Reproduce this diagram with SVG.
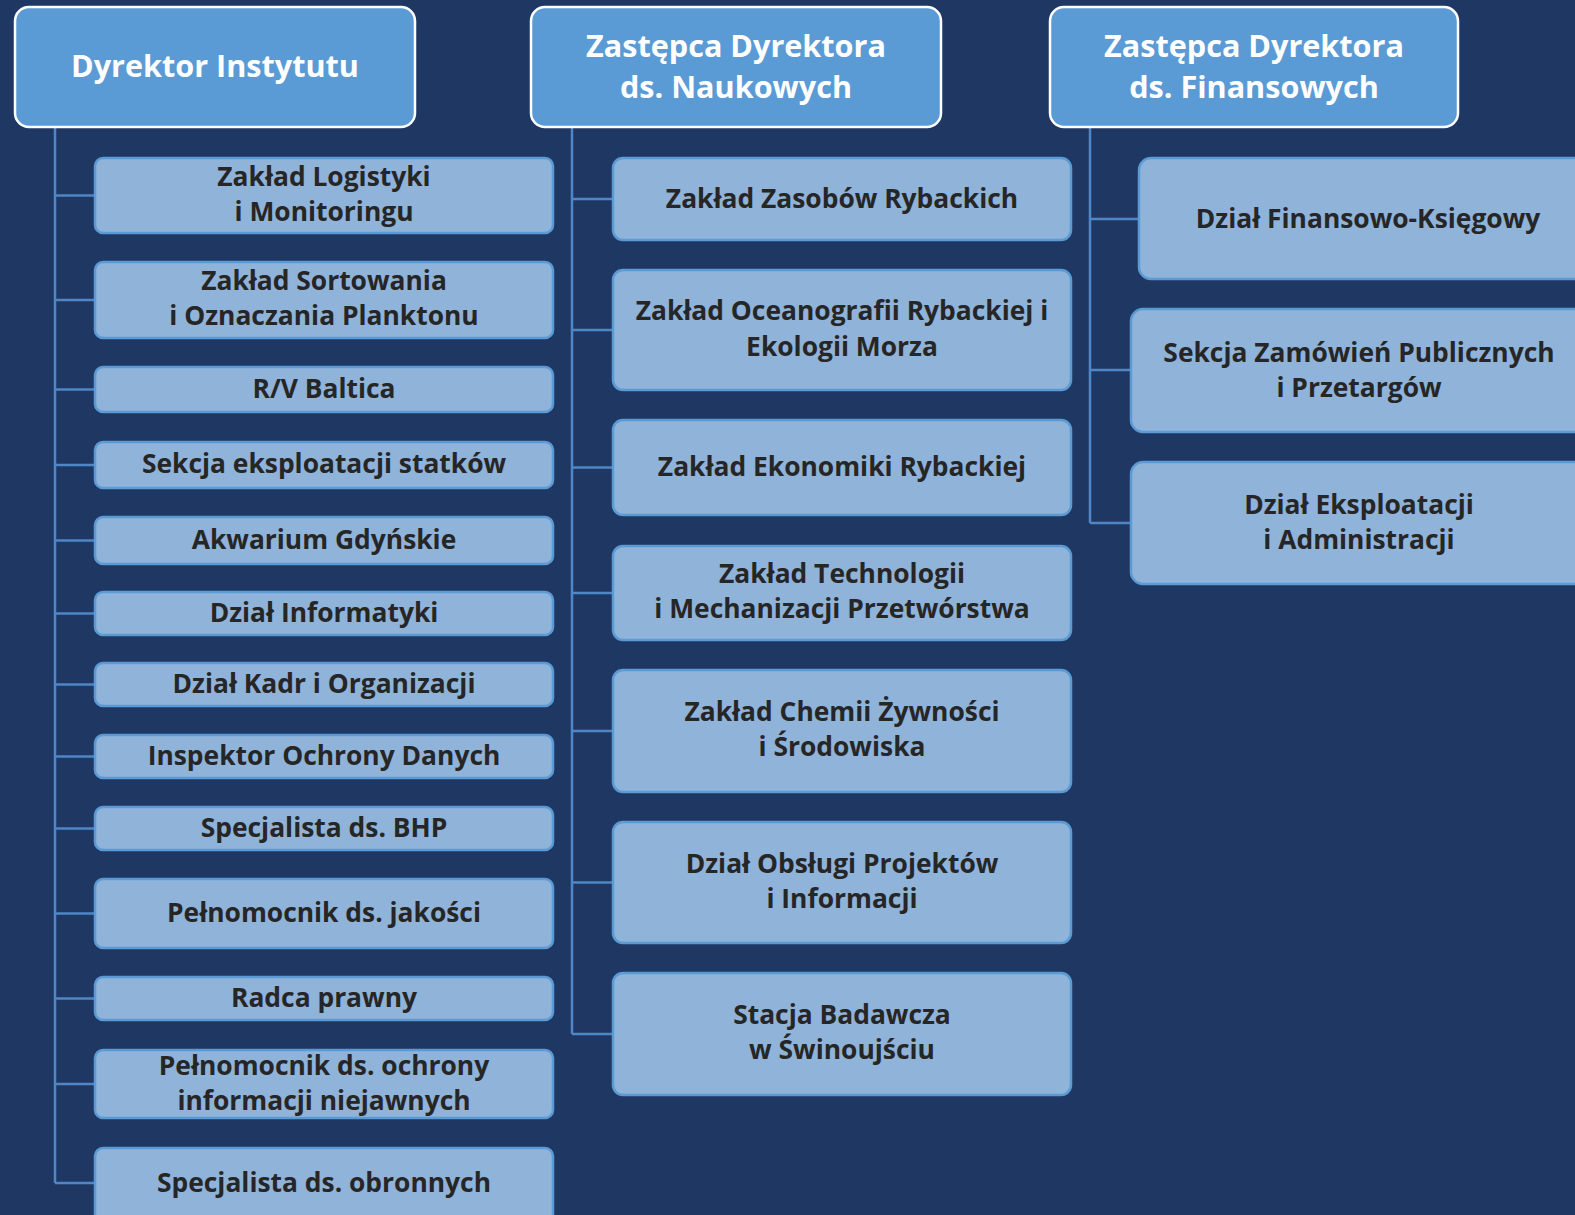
<svg xmlns="http://www.w3.org/2000/svg" width="1575" height="1215" viewBox="0 0 1575 1215">
<style>
.bg{fill:#1f3763}
.hd rect{fill:#5b9bd5;stroke:#ffffff;stroke-width:2.5}
.hd text{fill:#ffffff;font-family:"Open Sans","Noto Sans",sans-serif;font-weight:700;font-size:30.6px;text-anchor:middle}
.nd rect{fill:#8fb3d9;stroke:#5b9bd5;stroke-width:2.5}
.nd text{fill:#262626;font-family:"Open Sans","Noto Sans",sans-serif;font-weight:700;font-size:26.4px;text-anchor:middle}
.cn{stroke:#4f86c6;stroke-width:2.5;fill:none}
</style>
<rect class="bg" x="0" y="0" width="1575" height="1215"/>
<g id="connectors" class="cn">
<path d="M55 128V1183M55 195.5H95M55 300H95M55 389.5H95M55 465H95M55 540.5H95M55 613.5H95M55 684.5H95M55 756.5H95M55 828.5H95M55 913.5H95M55 998.5H95M55 1084H95M55 1183H95"/>
<path d="M572 128V1034M572 199H613M572 330H613M572 467.5H613M572 593H613M572 731H613M572 882.5H613M572 1034H613"/>
<path d="M1090 128V523M1090 219H1139M1090 370H1131M1090 523H1131"/>
</g>
<g id="h1" class="hd"><rect x="15" y="7" width="400" height="120" rx="14"/><text x="215" y="77">Dyrektor Instytutu</text></g>
<g id="h2" class="hd"><rect x="531" y="7" width="410" height="120" rx="14"/><text x="736" y="57">Zastępca Dyrektora</text><text x="736" y="98">ds. Naukowych</text></g>
<g id="h3" class="hd"><rect x="1050" y="7" width="408" height="120" rx="14"/><text x="1254" y="57">Zastępca Dyrektora</text><text x="1254" y="98">ds. Finansowych</text></g>

<g id="l1" class="nd"><rect x="95" y="158" width="458" height="75" rx="8"/><text x="324" y="186">Zakład Logistyki</text><text x="324" y="221">i Monitoringu</text></g>
<g id="l2" class="nd"><rect x="95" y="262" width="458" height="76" rx="8"/><text x="324" y="290">Zakład Sortowania</text><text x="324" y="325">i Oznaczania Planktonu</text></g>
<g id="l3" class="nd"><rect x="95" y="367" width="458" height="45" rx="8"/><text x="324" y="398">R/V Baltica</text></g>
<g id="l4" class="nd"><rect x="95" y="442" width="458" height="46" rx="8"/><text x="324" y="473">Sekcja eksploatacji statków</text></g>
<g id="l5" class="nd"><rect x="95" y="517" width="458" height="47" rx="8"/><text x="324" y="549">Akwarium Gdyńskie</text></g>
<g id="l6" class="nd"><rect x="95" y="592" width="458" height="43" rx="8"/><text x="324" y="622">Dział Informatyki</text></g>
<g id="l7" class="nd"><rect x="95" y="663" width="458" height="43" rx="8"/><text x="324" y="693">Dział Kadr i Organizacji</text></g>
<g id="l8" class="nd"><rect x="95" y="735" width="458" height="43" rx="8"/><text x="324" y="765">Inspektor Ochrony Danych</text></g>
<g id="l9" class="nd"><rect x="95" y="807" width="458" height="43" rx="8"/><text x="324" y="837">Specjalista ds. BHP</text></g>
<g id="l10" class="nd"><rect x="95" y="879" width="458" height="69" rx="8"/><text x="324" y="922">Pełnomocnik ds. jakości</text></g>
<g id="l11" class="nd"><rect x="95" y="977" width="458" height="43" rx="8"/><text x="324" y="1007">Radca prawny</text></g>
<g id="l12" class="nd"><rect x="95" y="1050" width="458" height="68" rx="8"/><text x="324" y="1075">Pełnomocnik ds. ochrony</text><text x="324" y="1110">informacji niejawnych</text></g>
<g id="l13" class="nd"><rect x="95" y="1148" width="458" height="90" rx="8"/><text x="324" y="1192">Specjalista ds. obronnych</text></g>

<g id="m1" class="nd"><rect x="613" y="158" width="458" height="82" rx="10"/><text x="842" y="208">Zakład Zasobów Rybackich</text></g>
<g id="m2" class="nd"><rect x="613" y="270" width="458" height="120" rx="10"/><text x="842" y="320">Zakład Oceanografii Rybackiej i</text><text x="842" y="356">Ekologii Morza</text></g>
<g id="m3" class="nd"><rect x="613" y="420" width="458" height="95" rx="10"/><text x="842" y="476">Zakład Ekonomiki Rybackiej</text></g>
<g id="m4" class="nd"><rect x="613" y="546" width="458" height="94" rx="10"/><text x="842" y="583">Zakład Technologii</text><text x="842" y="618">i Mechanizacji Przetwórstwa</text></g>
<g id="m5" class="nd"><rect x="613" y="670" width="458" height="122" rx="10"/><text x="842" y="721">Zakład Chemii Żywności</text><text x="842" y="756">i Środowiska</text></g>
<g id="m6" class="nd"><rect x="613" y="822" width="458" height="121" rx="10"/><text x="842" y="873">Dział Obsługi Projektów</text><text x="842" y="908">i Informacji</text></g>
<g id="m7" class="nd"><rect x="613" y="973" width="458" height="122" rx="10"/><text x="842" y="1024">Stacja Badawcza</text><text x="842" y="1059">w Świnoujściu</text></g>

<g id="r1" class="nd"><rect x="1139" y="158" width="460" height="121" rx="12"/><text x="1368" y="228">Dział Finansowo-Księgowy</text></g>
<g id="r2" class="nd"><rect x="1131" y="309" width="460" height="123" rx="12"/><text x="1359" y="362">Sekcja Zamówień Publicznych</text><text x="1359" y="397">i Przetargów</text></g>
<g id="r3" class="nd"><rect x="1131" y="462" width="460" height="122" rx="12"/><text x="1359" y="514">Dział Eksploatacji</text><text x="1359" y="549">i Administracji</text></g>
</svg>
